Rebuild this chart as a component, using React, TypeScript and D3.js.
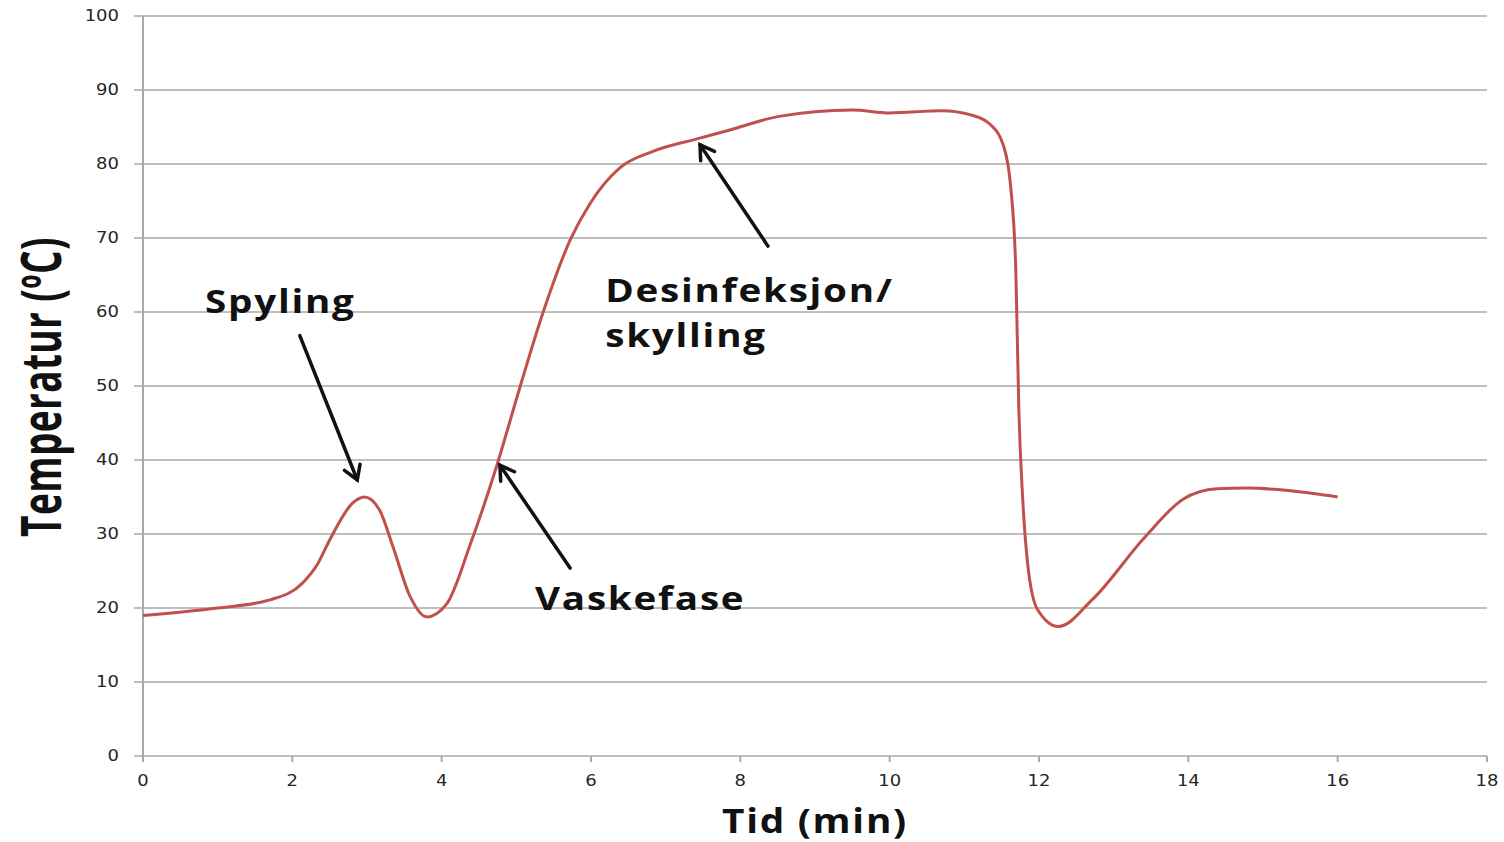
import React, { useEffect, useRef } from 'react';
import * as d3 from 'd3';

// temperature curve: time (min) and temperature (ºC)
const timeMin = [0, 1, 1.7, 2.14, 2.33, 2.5, 2.81, 2.97, 3.17, 3.35, 3.58, 3.8, 4.07, 4.38, 4.74, 5.05, 5.36, 5.72, 5.99, 6.39, 6.83, 7.42, 7.86, 8.5, 9.5, 10, 10.7, 11.1, 11.34, 11.52, 11.62, 11.69, 11.73, 11.78, 11.85, 11.98, 12.26, 12.72, 13.42, 13.93, 14.38, 14.8, 15.4, 16];
const tempC = [19, 20, 21.1, 23.4, 25.8, 29.2, 34.2, 35, 33.2, 28.2, 21.5, 18.8, 20.6, 28.5, 39.3, 49.9, 60, 69.7, 74.7, 79.5, 81.7, 83.4, 84.6, 86.4, 87.3, 86.9, 87.2, 86.6, 85.4, 82.6, 77, 65.4, 46.8, 35.1, 25.8, 19.8, 17.5, 21.2, 29.6, 34.7, 36.1, 36.2, 35.8, 35];

const xTicks = [0, 2, 4, 6, 8, 10, 12, 14, 16, 18];
const yTicks = [0, 10, 20, 30, 40, 50, 60, 70, 80, 90, 100];

// annotation arrows in data units: from (x1,y1) to the arrow tip (x2,y2)
const arrows = [
  { x1: 2.1, y1: 56.8, x2: 2.87, y2: 37.3 },
  { x1: 5.72, y1: 25.4, x2: 4.78, y2: 39.3 },
  { x1: 8.37, y1: 68.9, x2: 7.46, y2: 82.6 },
];
const labels = [
  { x: 0.83, y: 59.9, text: 'Spyling' },
  { x: 5.25, y: 19.7, text: 'Vaskefase' },
  { x: 6.19, y: 61.4, text: 'Desinfeksjon/' },
  { x: 6.19, y: 55.3, text: 'skylling' },
];

const W = 1504;
const H = 842;
const SX = 1.17; // the reference is stretched sideways

const App = () => {
  const ref = useRef<SVGSVGElement>(null);

  useEffect(() => {
    document.body.style.margin = '0';
    const svg = d3.select(ref.current);
    svg.selectAll('*').remove();

    const x = d3.scaleLinear().domain([0, 18]).range([143, 1487]);
    const y = d3.scaleLinear().domain([0, 100]).range([756, 16]);

    const grid = '#a9a9a9';

    // horizontal gridlines
    svg
      .append('g')
      .selectAll('line')
      .data(yTicks)
      .join('line')
      .attr('x1', 134)
      .attr('x2', 1487)
      .attr('y1', d => y(d))
      .attr('y2', d => y(d))
      .attr('stroke', grid)
      .attr('stroke-width', 1.5);

    // y axis line
    svg
      .append('line')
      .attr('x1', x(0))
      .attr('x2', x(0))
      .attr('y1', y(100))
      .attr('y2', y(0))
      .attr('stroke', grid)
      .attr('stroke-width', 2);

    // x ticks
    svg
      .append('g')
      .selectAll('line')
      .data(xTicks)
      .join('line')
      .attr('x1', d => x(d))
      .attr('x2', d => x(d))
      .attr('y1', y(0))
      .attr('y2', y(0) + 6)
      .attr('stroke', grid)
      .attr('stroke-width', 2);

    const tickFont = 'Verdana, "DejaVu Sans", sans-serif';

    svg
      .append('g')
      .selectAll('text')
      .data(yTicks)
      .join('text')
      .attr('transform', d => `translate(119,${y(d)}) scale(1.2,1)`)
      .attr('dy', '0.35em')
      .attr('text-anchor', 'end')
      .attr('font-family', tickFont)
      .attr('font-size', 15)
      .attr('fill', '#262626')
      .text(d => d);

    svg
      .append('g')
      .selectAll('text')
      .data(xTicks)
      .join('text')
      .attr('transform', d => `translate(${x(d)},786) scale(1.2,1)`)
      .attr('text-anchor', 'middle')
      .attr('font-family', tickFont)
      .attr('font-size', 15)
      .attr('fill', '#262626')
      .text(d => d);

    // curve
    const pts: [number, number][] = timeMin.map((t, i) => [t, tempC[i]]);
    const line = d3
      .line<[number, number]>()
      .x(d => x(d[0]))
      .y(d => y(d[1]))
      .curve(d3.curveMonotoneX);

    svg
      .append('path')
      .datum(pts)
      .attr('fill', 'none')
      .attr('stroke', '#c0504d')
      .attr('stroke-width', 3)
      .attr('stroke-linejoin', 'round')
      .attr('d', line);

    // arrows
    const ag = svg.append('g').attr('stroke', '#111').attr('stroke-width', 3.5).attr('stroke-linecap', 'round').attr('fill', 'none');
    arrows.forEach(a => {
      const px1 = x(a.x1), py1 = y(a.y1), px2 = x(a.x2), py2 = y(a.y2);
      ag.append('line').attr('x1', px1).attr('y1', py1).attr('x2', px2).attr('y2', py2);
      const ang = Math.atan2(py2 - py1, px2 - px1);
      const len = 16;
      const spread = 0.55;
      const p = d3.path();
      p.moveTo(px2 - len * Math.cos(ang - spread), py2 - len * Math.sin(ang - spread));
      p.lineTo(px2, py2);
      p.lineTo(px2 - len * Math.cos(ang + spread), py2 - len * Math.sin(ang + spread));
      ag.append('path').attr('d', p.toString()).attr('stroke-linejoin', 'miter');
    });

    const labelFont = '"Open Sans", Lato, sans-serif';
    svg
      .append('g')
      .selectAll('text')
      .data(labels)
      .join('text')
      .attr('transform', d => `translate(${x(d.x)},${y(d.y)}) scale(${SX},1)`)
      .attr('font-family', labelFont)
      .attr('font-weight', 700)
      .attr('font-size', 33)
      .attr('letter-spacing', 1.5)
      .attr('fill', '#111')
      .text(d => d.text);

    // axis titles
    svg
      .append('text')
      .attr('transform', `translate(815,833) scale(1.14,1)`)
      .attr('text-anchor', 'middle')
      .attr('font-family', labelFont)
      .attr('font-weight', 700)
      .attr('font-size', 34)
      .attr('letter-spacing', 1.5)
      .attr('fill', '#111')
      .text('Tid (min)');

    svg
      .append('text')
      .attr('transform', 'translate(61,387) rotate(-90) scale(1,1.5)')
      .attr('text-anchor', 'middle')
      .attr('font-family', labelFont)
      .attr('font-weight', 700)
      .attr('font-size', 37)
      .attr('letter-spacing', 0.4)
      .attr('fill', '#111')
      .text('Temperatur (ºC)');
  }, []);

  return <svg ref={ref} width={W} height={H} style={{ display: 'block', background: '#fff' }} />;
};

export default App;
